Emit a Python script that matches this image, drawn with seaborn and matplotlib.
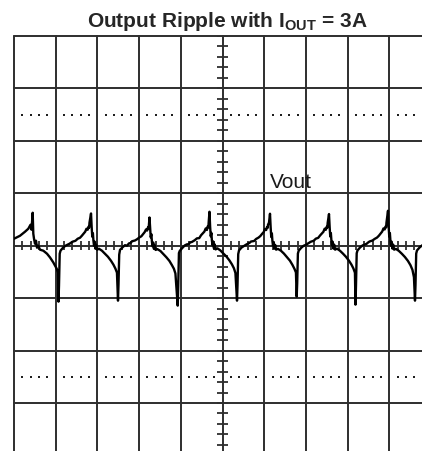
import numpy as np
import pandas as pd
import matplotlib
matplotlib.use("Agg")
import matplotlib.pyplot as plt
import seaborn as sns

# ---- data (time and voltage in scope divisions) ----
time_div = [
    0.000, 0.144, 0.264, 0.343, 0.396, 0.420, 0.448, 0.463, 0.480, 0.504, 0.528, 0.552, 0.583,
    0.624, 0.703, 0.791, 0.863, 0.942, 1.024, 1.055,
    # cycle 1
    1.067, 1.079, 1.096, 1.115, 1.175, 1.235, 1.283, 1.331, 1.367, 1.403, 1.475, 1.527, 1.583,
    1.627, 1.667, 1.707, 1.738, 1.767, 1.786, 1.802, 1.810,
    1.847, 1.862, 1.877, 1.892, 1.905, 1.919, 1.937, 1.953, 1.972, 1.994, 2.037, 2.109, 2.181,
    2.252, 2.325, 2.385, 2.433, 2.469,
    # cycle 2
    2.494, 2.506, 2.523, 2.542, 2.602, 2.662, 2.710, 2.758, 2.794, 2.830, 2.902, 2.954, 3.010,
    3.054, 3.094, 3.134, 3.165, 3.194, 3.213, 3.229, 3.237,
    3.249, 3.264, 3.279, 3.294, 3.307, 3.321, 3.339, 3.355, 3.374, 3.396, 3.439, 3.511, 3.583,
    3.654, 3.727, 3.787, 3.835, 3.871,
    # cycle 3
    3.926, 3.938, 3.955, 3.974, 4.034, 4.094, 4.142, 4.190, 4.226, 4.262, 4.334, 4.386, 4.442,
    4.486, 4.526, 4.566, 4.597, 4.626, 4.645, 4.661, 4.669,
    4.688, 4.703, 4.718, 4.733, 4.746, 4.760, 4.778, 4.794, 4.813, 4.835, 4.878, 4.950, 5.022,
    5.093, 5.166, 5.226, 5.274, 5.310,
    # cycle 4
    5.348, 5.360, 5.377, 5.396, 5.456, 5.516, 5.564, 5.612, 5.648, 5.684, 5.756, 5.808, 5.864,
    5.908, 5.948, 5.988, 6.019, 6.048, 6.067, 6.083, 6.091, 6.115,
    6.139, 6.154, 6.169, 6.184, 6.197, 6.211, 6.229, 6.245, 6.264, 6.286, 6.329, 6.401, 6.473,
    6.544, 6.617, 6.677, 6.725, 6.761,
    # cycle 5
    6.779, 6.791, 6.808, 6.827, 6.887, 6.947, 6.995, 7.043, 7.079, 7.115, 7.187, 7.239, 7.295,
    7.339, 7.379, 7.419, 7.450, 7.479, 7.498, 7.514, 7.522,
    7.554, 7.569, 7.584, 7.599, 7.612, 7.626, 7.644, 7.660, 7.679, 7.701, 7.744, 7.816, 7.888,
    7.959, 8.032, 8.092, 8.140, 8.176,
    # cycle 6
    8.189, 8.201, 8.218, 8.237, 8.297, 8.357, 8.405, 8.453, 8.489, 8.525, 8.597, 8.649, 8.705,
    8.749, 8.789, 8.829, 8.860, 8.889, 8.908, 8.924, 8.932,
    8.969, 8.984, 8.999, 9.014, 9.027, 9.041, 9.059, 9.075, 9.094, 9.116, 9.159, 9.231, 9.303,
    9.374, 9.447, 9.507, 9.555, 9.591,
    # cycle 7
    9.616, 9.628, 9.645, 9.664, 9.724, 9.784, 9.832, 9.880, 9.940, 10.000,
]

vout_div = [
    0.133, 0.190, 0.267, 0.324, 0.400, 0.305, 0.629, 0.229, 0.133, 0.038, 0.095, -0.038, 0.000,
    -0.076, -0.095, -0.152, -0.223, -0.318, -0.438, -0.514,
    # cycle 1
    -1.067, -0.762, -0.152, -0.095, -0.038, 0.000, 0.019, 0.038, 0.057, 0.076, 0.095, 0.133, 0.152,
    0.190, 0.229, 0.267, 0.324, 0.305, 0.362, 0.343, 0.438,
    0.615, 0.362, 0.171, 0.238, 0.095, 0.000, 0.076, -0.057, 0.019, -0.076, -0.057, -0.095, -0.152,
    -0.210, -0.286, -0.362, -0.438, -0.514,
    # cycle 2
    -1.048, -0.740, -0.170, -0.080, -0.030, 0.010, 0.000, 0.045, 0.050, 0.085, 0.100, 0.125, 0.160,
    0.180, 0.220, 0.260, 0.310, 0.290, 0.350, 0.330, 0.420,
    0.539, 0.340, 0.160, 0.220, 0.080, -0.010, 0.060, -0.060, 0.010, -0.080, -0.065, -0.100, -0.160,
    -0.220, -0.290, -0.370, -0.440, -0.530,
    # cycle 3
    -1.143, -0.780, -0.140, -0.100, -0.045, 0.005, 0.025, 0.030, 0.065, 0.070, 0.105, 0.140, 0.145,
    0.200, 0.235, 0.270, 0.330, 0.300, 0.370, 0.350, 0.450,
    0.648, 0.370, 0.180, 0.245, 0.100, 0.010, 0.080, -0.050, 0.025, -0.070, -0.050, -0.090, -0.150,
    -0.205, -0.280, -0.355, -0.430, -0.520,
    # cycle 4
    -1.048, -0.750, -0.160, -0.090, -0.035, -0.005, 0.020, 0.040, 0.055, 0.080, 0.090, 0.130, 0.155,
    0.185, 0.225, 0.260, 0.320, 0.300, 0.355, 0.340, 0.400, 0.440,
    0.610, 0.360, 0.165, 0.235, 0.090, 0.000, 0.070, -0.055, 0.015, -0.075, -0.060, -0.095, -0.150,
    -0.215, -0.285, -0.365, -0.440, -0.510,
    # cycle 5
    -0.971, -0.720, -0.150, -0.095, -0.040, 0.000, 0.015, 0.040, 0.060, 0.075, 0.095, 0.135, 0.150,
    0.195, 0.230, 0.265, 0.325, 0.305, 0.360, 0.345, 0.435,
    0.604, 0.365, 0.175, 0.240, 0.095, 0.005, 0.075, -0.055, 0.020, -0.075, -0.055, -0.095, -0.150,
    -0.210, -0.285, -0.360, -0.435, -0.515,
    # cycle 6
    -1.124, -0.770, -0.145, -0.090, -0.035, 0.005, 0.020, 0.035, 0.060, 0.080, 0.100, 0.130, 0.155,
    0.190, 0.230, 0.270, 0.330, 0.310, 0.365, 0.350, 0.440,
    0.667, 0.370, 0.170, 0.240, 0.095, 0.000, 0.075, -0.055, 0.020, -0.075, -0.060, -0.100, -0.155,
    -0.215, -0.290, -0.370, -0.460, -0.600,
    # cycle 7
    -1.048, -0.750, -0.150, -0.090, -0.035, 0.005, 0.025, 0.040, 0.060, 0.080,
]

title_text = "Output Ripple with I$_\\mathrm{OUT}$ = 3A"
trace_label = "Vout"
x_divisions = 10
y_divisions = 8

# ---- figure ----
sns.set_style("white")
plt.rcParams["font.family"] = ["Liberation Sans", "DejaVu Sans"]
plt.rcParams["mathtext.fontset"] = "custom"
plt.rcParams["mathtext.rm"] = "Liberation Sans:bold"
plt.rcParams["mathtext.bf"] = "Liberation Sans:bold"
plt.rcParams["mathtext.it"] = "Liberation Sans:bold"

W, H = 422, 451
fig = plt.figure(figsize=(W / 100, H / 100), dpi=100)
fig.patch.set_facecolor("white")

left_px, top_px = 14, 36
div_w, div_h = 41.7, 52.43
ax = fig.add_axes([left_px / W, (H - top_px - y_divisions * div_h) / H,
                   x_divisions * div_w / W, y_divisions * div_h / H])
ax.set_xlim(0, x_divisions)
ax.set_ylim(-y_divisions / 2, y_divisions / 2)
ax.set_facecolor("white")
for s in ax.spines.values():
    s.set_visible(False)
ax.set_xticks([])
ax.set_yticks([])

grid_c = "#2e2e2e"
for gx in range(0, x_divisions + 1):
    ax.axvline(gx, color=grid_c, lw=1.4, clip_on=False, zorder=1)
for gy in range(-y_divisions // 2, y_divisions // 2 + 1):
    ax.axhline(gy, color=grid_c, lw=1.4, clip_on=False, zorder=1)

# center-line minor ticks
minor_x = np.arange(0, x_divisions + 0.001, 0.2)
minor_y = np.arange(-y_divisions / 2, y_divisions / 2 + 0.001, 0.2)
ax.vlines(minor_x, -0.09, 0.09, color=grid_c, lw=1.3, zorder=1)
ax.hlines(minor_y, x_divisions / 2 - 0.13, x_divisions / 2 + 0.13, color=grid_c, lw=1.3, zorder=1)

# dotted rows
dot_x = np.array([v for v in minor_x if abs(v - round(v)) > 0.01])
for dy in (2.5, -2.5):
    ax.plot(dot_x, np.full_like(dot_x, dy), linestyle="none", marker="s",
            ms=1.6, mew=0, color="#1e1e1e", zorder=1)

df = pd.DataFrame({"time": time_div, "vout": vout_div})
sns.lineplot(data=df, x="time", y="vout", ax=ax, sort=False, estimator=None,
             color="black", lw=1.7, zorder=3)
ax.set_xlabel("")
ax.set_ylabel("")

ax.text(6.14, 1.11, trace_label, fontsize=15, color="#1a1a1a", va="baseline", ha="left")

fig.text(227 / W, (H - 27) / H, title_text, fontsize=15, fontweight="bold",
         ha="center", va="baseline")

fig.savefig("out.png", dpi=100, facecolor="white")
